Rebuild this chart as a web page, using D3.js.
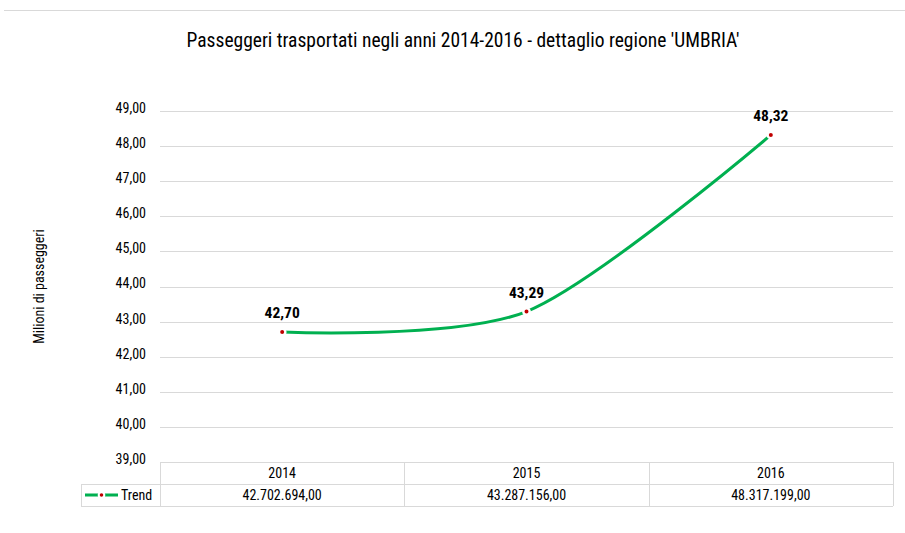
<!DOCTYPE html>
<html>
<head>
<meta charset="utf-8">
<script src="https://cdn.jsdelivr.net/npm/d3@7"></script>
<style>
  body { margin: 0; background: #fff; }
  svg text { font-family: "Roboto Condensed", "Liberation Sans Narrow", "DejaVu Sans Condensed", "DejaVu Sans"; font-stretch: condensed; fill: #000; }
</style>
</head>
<body>
<div id="chart"></div>
<script>
// chart data
const years = ["2014", "2015", "2016"];
const passengers = [42702694.00, 43287156.00, 48317199.00];
const yTicks = [39, 40, 41, 42, 43, 44, 45, 46, 47, 48, 49];
const seriesName = "Trend";
const title = "Passeggeri trasportati negli anni 2014-2016 - dettaglio regione 'UMBRIA'";
const yTitle = "Milioni di passeggeri";

const width = 905, height = 533;
const margin = { left: 160, right: 12, top: 111, bottom: 71 };

const svg = d3.select("#chart").append("svg")
    .attr("width", width)
    .attr("height", height);

// top border line
svg.append("line")
    .attr("x1", 4).attr("x2", width).attr("y1", 10.5).attr("y2", 10.5)
    .attr("stroke", "#d9d9d9");

svg.append("text")
    .attr("x", 463).attr("y", 47)
    .attr("text-anchor", "middle")
    .style("font-size", "19.5px")
    .text(title);

const x = d3.scaleBand()
    .domain(years)
    .range([margin.left, width - margin.right]);

const y = d3.scaleLinear()
    .domain([39, 49])
    .range([height - margin.bottom, margin.top]);

const fmt = d3.formatLocale({ decimal: ",", thousands: ".", grouping: [3], currency: ["", "€"] });
const fmt2 = fmt.format(",.2f");

// gridlines
svg.append("g")
    .selectAll("line")
    .data(yTicks.slice(1))
    .join("line")
    .attr("x1", margin.left).attr("x2", width - margin.right)
    .attr("y1", d => Math.round(y(d)) + 0.5).attr("y2", d => Math.round(y(d)) + 0.5)
    .attr("stroke", "#d9d9d9");

// y axis labels
const yAxis = d3.axisLeft(y).tickValues(yTicks).tickFormat(fmt2).tickSize(0).tickPadding(14);
svg.append("g")
    .attr("transform", `translate(${margin.left},0)`)
    .call(yAxis)
    .call(g => g.select(".domain").remove())
    .selectAll("text")
    .style("font-size", "14px")
    .style("font-family", null)
    .attr("dy", "0.1em");

svg.append("text")
    .attr("transform", `translate(44,${(margin.top + height - margin.bottom) / 2}) rotate(-90)`)
    .attr("text-anchor", "middle")
    .style("font-size", "14px")
    .text(yTitle);

// data table
const rowH = 22;
const tableTop = y(39);
const legendLeft = 81;
const tbl = svg.append("g").attr("stroke", "#d9d9d9").attr("fill", "none");
const xr = [margin.left, width - margin.right];
tbl.append("line").attr("x1", xr[0]).attr("x2", xr[1]).attr("y1", tableTop + 0.5).attr("y2", tableTop + 0.5);
tbl.append("line").attr("x1", legendLeft).attr("x2", xr[1]).attr("y1", tableTop + rowH + 0.5).attr("y2", tableTop + rowH + 0.5);
tbl.append("line").attr("x1", legendLeft).attr("x2", xr[1]).attr("y1", tableTop + 2 * rowH + 0.5).attr("y2", tableTop + 2 * rowH + 0.5);
tbl.append("line").attr("x1", legendLeft + 0.5).attr("x2", legendLeft + 0.5).attr("y1", tableTop + rowH).attr("y2", tableTop + 2 * rowH);
const bounds = years.map(d => x(d)).concat([x(years[years.length - 1]) + x.bandwidth()]);
tbl.selectAll(".vb").data(bounds).join("line")
    .attr("x1", d => Math.round(d) + 0.5).attr("x2", d => Math.round(d) + 0.5)
    .attr("y1", tableTop).attr("y2", tableTop + 2 * rowH);

svg.append("g").selectAll("text").data(years).join("text")
    .attr("x", d => x(d) + x.bandwidth() / 2)
    .attr("y", tableTop + rowH / 2 + 5)
    .attr("text-anchor", "middle")
    .style("font-size", "14px")
    .text(d => d);

svg.append("g").selectAll("text").data(passengers).join("text")
    .attr("x", (d, i) => x(years[i]) + x.bandwidth() / 2)
    .attr("y", tableTop + rowH * 1.5 + 5)
    .attr("text-anchor", "middle")
    .style("font-size", "14px")
    .text(d => fmt2(d));

// legend key
const ly = tableTop + rowH * 1.5;
svg.append("line").attr("x1", 85).attr("x2", 118).attr("y1", ly).attr("y2", ly)
    .attr("stroke", "#00b050").attr("stroke-width", 3);
svg.append("circle").attr("cx", 101.5).attr("cy", ly).attr("r", 2.8)
    .attr("fill", "#c00000").attr("stroke", "#fff").attr("stroke-width", 2);
svg.append("text").attr("x", 121).attr("y", ly + 5)
    .style("font-size", "14px").text(seriesName);

// line series
const pts = passengers.map((v, i) => [x(years[i]) + x.bandwidth() / 2, y(v / 1e6)]);
svg.append("path")
    .datum(pts)
    .attr("d", d3.line().curve(d3.curveCardinal.tension(0.15)))
    .attr("fill", "none")
    .attr("stroke", "#00b050")
    .attr("stroke-width", 3)
    .attr("stroke-linecap", "round");

svg.append("g").selectAll("circle").data(pts).join("circle")
    .attr("cx", d => d[0]).attr("cy", d => d[1])
    .attr("r", 3.2)
    .attr("fill", "#c00000")
    .attr("stroke", "#fff")
    .attr("stroke-width", 2.4);

svg.append("g").selectAll("text").data(passengers).join("text")
    .attr("x", (d, i) => pts[i][0])
    .attr("y", (d, i) => pts[i][1] - 14)
    .attr("text-anchor", "middle")
    .style("font-size", "15.5px")
    .style("font-weight", "bold")
    .text(d => fmt2(d / 1e6));
</script>
</body>
</html>
